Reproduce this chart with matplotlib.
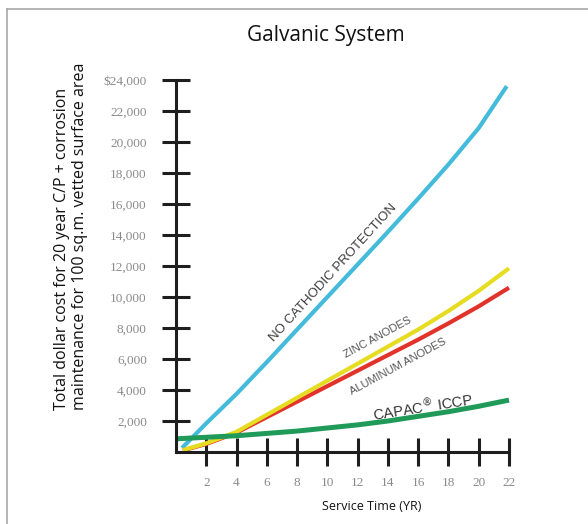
import matplotlib
matplotlib.use("Agg")
import matplotlib.pyplot as plt
from matplotlib.lines import Line2D

plt.rcParams['font.family'] = ['Open Sans', 'DejaVu Sans']

# values (years, dollars)
years_blue = [0.4, 2, 4, 6, 8, 10, 12, 14, 16, 18, 20, 21.85]
no_cp = [260, 1850, 3750, 5800, 7900, 10000, 12100, 14200, 16350, 18550, 20900, 23600]

years_anode = [0.45, 2, 4, 6, 8, 10, 12, 14, 16, 18, 20, 22]
zinc = [120, 560, 1300, 2400, 3500, 4600, 5700, 6800, 7900, 9100, 10400, 11850]
aluminum = [100, 520, 1250, 2250, 3250, 4250, 5250, 6250, 7250, 8300, 9400, 10600]

years_capac = [0, 2, 4, 6, 8, 10, 12, 14, 16, 18, 20, 22]
capac = [850, 950, 1050, 1200, 1350, 1550, 1750, 2000, 2300, 2600, 2950, 3350]

x_ticks = [2, 4, 6, 8, 10, 12, 14, 16, 18, 20, 22]
y_ticks = [2000, 4000, 6000, 8000, 10000, 12000, 14000, 16000, 18000, 20000, 22000, 24000]
y_labels = ['2,000', '4,000', '6,000', '8,000', '10,000', '12,000', '14,000',
            '16,000', '18,000', '20,000', '22,000', '$24,000']

fig = plt.figure(figsize=(5.88, 5.24), dpi=100)
ax = fig.add_axes([176/588, 72/524, 333/588, 372/524])

ax.plot(years_blue, no_cp, color='#45bbdb', lw=3.0, clip_on=False, solid_capstyle='butt')
ax.plot(years_anode, aluminum, color='#e2332b', lw=3.0, clip_on=False, solid_capstyle='butt')
ax.plot(years_anode, zinc, color='#e6dc22', lw=3.0, clip_on=False, solid_capstyle='butt')
ax.plot(years_capac, capac, color='#1f9a58', lw=3.6, clip_on=False, solid_capstyle='butt')

ax.set_xlim(0, 22)
ax.set_ylim(0, 24000)
ax.set_xticks(x_ticks)
ax.set_xticklabels([str(v) for v in x_ticks])
ax.set_yticks(y_ticks)
ax.set_yticklabels(y_labels)

for s in ['top', 'right']:
    ax.spines[s].set_visible(False)
for s in ['left', 'bottom']:
    ax.spines[s].set_linewidth(2.2)
    ax.spines[s].set_color('#1e1e1e')

ax.tick_params(axis='both', direction='inout', length=20, width=2.2, color='#1e1e1e',
               labelcolor='#8a8a8a', labelsize=9.5)
ax.tick_params(axis='y', pad=11)
ax.tick_params(axis='x', pad=8)
for lab in ax.get_xticklabels() + ax.get_yticklabels():
    lab.set_family('Liberation Serif')
ax.set_facecolor('none')

# curve labels
ax.text(10.4, 11550, 'NO CATHODIC PROTECTION', rotation=47.5, rotation_mode='anchor',
        ha='center', va='center', fontsize=9.5, color='#3c3c3c', family='Liberation Sans')
ax.text(13.3, 7420, 'ZINC ANODES', rotation=28.5, rotation_mode='anchor',
        ha='center', va='center', fontsize=8, color='#555555', family='Liberation Sans')
ax.text(14.7, 5480, 'ALUMINUM ANODES', rotation=28.5, rotation_mode='anchor',
        ha='center', va='center', fontsize=8, color='#555555', family='Liberation Sans')
ax.text(16.3, 2950, r'CAPAC$^{\circledR}$ ICCP', rotation=9, rotation_mode='anchor',
        ha='center', va='center', fontsize=10.5, color='#333333', family='Liberation Sans')

fig.text(326/588, 1 - 35/524, 'Galvanic System', ha='center', va='center',
         fontsize=15, color='#111111')
fig.text(71/588, 1 - 410/524,
         'Total dollar cost for 20 year C/P + corrosion\nmaintenance for 100 sq.m. vetted surface area',
         rotation=90, ha='center', va='bottom', multialignment='left',
         fontsize=11.5, linespacing=1.1, color='#111111')
fig.text(372/588, 1 - 507/524, 'Service Time (YR)', ha='center', va='center',
         fontsize=9, color='#111111')

# grey frame (top and left edges visible in the picture)
fig.add_artist(Line2D([7/588, 7/588], [0, 1 - 9/524], transform=fig.transFigure,
                      color='#a8a8a8', lw=1.2))
fig.add_artist(Line2D([7/588, 1], [1 - 9/524, 1 - 9/524], transform=fig.transFigure,
                      color='#a8a8a8', lw=1.2))

fig.savefig('out.png', dpi=100)
